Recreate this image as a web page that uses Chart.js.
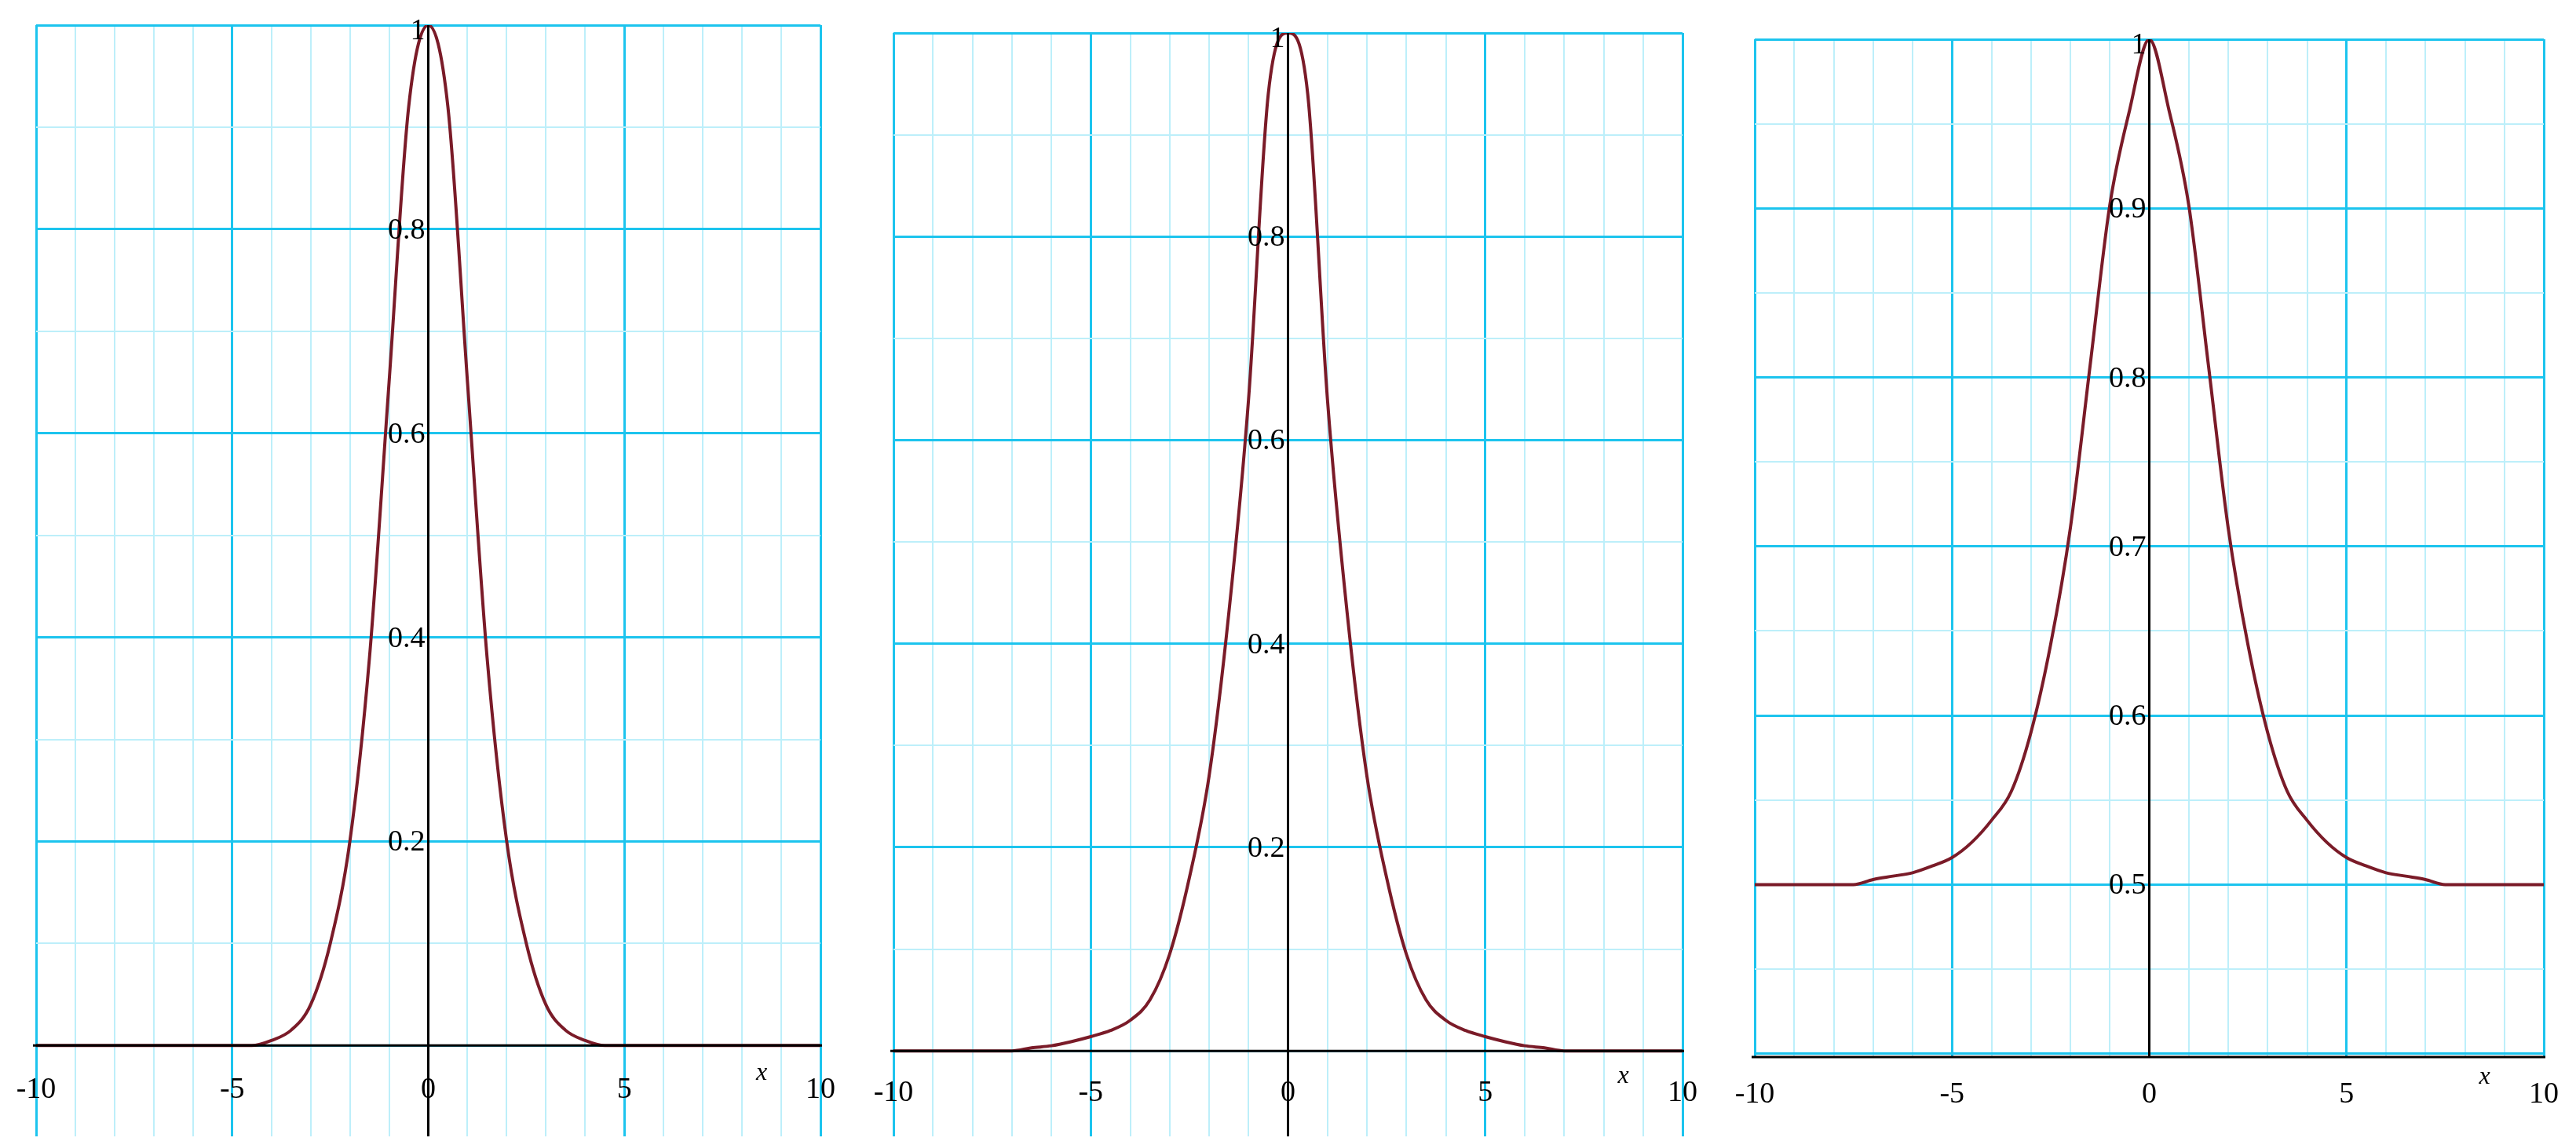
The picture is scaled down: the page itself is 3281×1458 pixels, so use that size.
<!DOCTYPE html>
<html><head><meta charset="utf-8">
<script src="https://cdn.jsdelivr.net/npm/chart.js@4"></script>
<style>html,body{margin:0;padding:0;background:#fff;width:3281px;height:1458px;overflow:hidden}
canvas{position:absolute;top:0}</style></head>
<body>
<canvas id="c1" style="left:0px"></canvas>
<canvas id="c2" style="left:1100px"></canvas>
<canvas id="c3" style="left:2200px"></canvas>
<script>
const xs = [-10,-9.5,-9,-8.5,-8,-7.5,-7,-6.5,-6,-5.5,-5,-4.5,-4,-3.5,-3,-2.5,-2,-1.5,-1,-0.5,0,0.5,1,1.5,2,2.5,3,3.5,4,4.5,5,5.5,6,6.5,7,7.5,8,8.5,9,9.5,10];
const y1 = [0,0,0,0,0,0,0,0,0,0,0,0,0.005,0.015,0.04,0.10,0.2,0.38,0.65,0.92,1,0.92,0.65,0.38,0.2,0.10,0.04,0.015,0.005,0,0,0,0,0,0,0,0,0,0,0,0];
const y2 = [0,0,0,0,0,0,0,0.003,0.005,0.009,0.014,0.02,0.03,0.05,0.095,0.17,0.27,0.43,0.64,0.94,1,0.94,0.64,0.43,0.27,0.17,0.095,0.05,0.03,0.02,0.014,0.009,0.005,0.003,0,0,0,0,0,0,0];
const y3 = [0.5,0.5,0.5,0.5,0.5,0.5,0.503,0.505,0.507,0.511,0.516,0.525,0.538,0.555,0.59,0.642,0.711,0.807,0.902,0.958,1,0.958,0.902,0.807,0.711,0.642,0.59,0.555,0.538,0.525,0.516,0.511,0.507,0.505,0.503,0.5,0.5,0.5,0.5,0.5,0.5];
const xTickLabels = ["-10","-5","0","5","10"];
const yLabels1 = ["0.2","0.4","0.6","0.8","1"];
const yLabels3 = ["0.5","0.6","0.7","0.8","0.9","1"];

const MAJ='#1CC4EE', MIN='#BDEFFA';
const labelPlugin = {
  id:'labels',
  afterDatasetsDraw(chart, args, o){
    const ctx=chart.ctx, xs_=chart.scales.x, ys_=chart.scales.y, a=chart.chartArea;
    ctx.save();
    ctx.strokeStyle='#000'; ctx.lineWidth=3;
    const x0=xs_.getPixelForValue(0), yAx=ys_.getPixelForValue(o.axisY);
    ctx.beginPath(); ctx.moveTo(x0,a.top); ctx.lineTo(x0,a.bottom); ctx.stroke();
    ctx.beginPath(); ctx.moveTo(a.left-4,yAx); ctx.lineTo(a.right+2,yAx); ctx.stroke();
    ctx.fillStyle='#000'; ctx.font='38px "Liberation Serif"';
    ctx.textAlign='center'; ctx.textBaseline='middle';
    xTickLabels.forEach(t=>ctx.fillText(t, xs_.getPixelForValue(+t), yAx+o.lo));
    ctx.textAlign='right';
    o.yl.forEach(t=>{let p=ys_.getPixelForValue(+t); if(+t===1)p+=6; ctx.fillText(t, x0-4, p+2);});
    ctx.font='italic 32px "Liberation Serif"'; ctx.textAlign='center';
    ctx.fillText('x', xs_.getPixelForValue(8.5), yAx+o.lo-22);
    ctx.restore();
  }
};
function make(id,w,pad,ys,ymin,ystep,majEvery,yl,axisY,xtra,lo){
  const cv=document.getElementById(id); cv.width=w; cv.height=1458;
  cv.style.width=w+'px'; cv.style.height='1458px';
  return new Chart(cv,{type:'line',
    data:{datasets:[{data:xs.map((x,i)=>({x,y:ys[i]})),borderColor:'#7A1B28',borderWidth:4,pointRadius:0,cubicInterpolationMode:'monotone',fill:false}]},
    options:{responsive:false,animation:false,devicePixelRatio:1,
      layout:{padding:pad},
      plugins:{legend:{display:false},tooltip:{enabled:false},labels:{axisY,yl,lo}},
      scales:{
        x:{type:'linear',min:-10,max:10,border:{display:false},ticks:{display:false},
          afterBuildTicks:s=>{s.ticks=[];for(let v=-10;v<=10;v++)s.ticks.push({value:v});},
          grid:{drawTicks:false,color:c=>(c.tick&&c.tick.value%5===0)?MAJ:MIN,lineWidth:c=>(c.tick&&c.tick.value%5===0)?3:2}},
        y:{type:'linear',min:ymin,max:1,border:{display:false},ticks:{display:false},
          afterBuildTicks:s=>{s.ticks=[];for(let k=0;k<=40;k++){const v=Math.round(k*ystep*1000)/1000;if(v>=xtra&&v<=1)s.ticks.push({value:v});}},
          grid:{drawTicks:false,color:c=>{const v=c.tick?c.tick.value:0;return Math.abs(Math.round(v/ystep)%majEvery)===0?MAJ:MIN;},
            lineWidth:c=>{const v=c.tick?c.tick.value:0;return Math.abs(Math.round(v/ystep)%majEvery)===0?3:2;}}}
      }},
    plugins:[labelPlugin]});
}
make('c1',1100,{left:46,right:55,top:32,bottom:11},y1,-0.089,0.1,2,yLabels1,0,0,57);
make('c2',1100,{left:38,right:57,top:42,bottom:11},y2,-0.084,0.1,2,yLabels1,0,0,54);
make('c3',1081,{left:35,right:41,top:50,bottom:112},y3,0.398,0.05,2,yLabels3,0.398,0.4,48);
</script></body></html>
